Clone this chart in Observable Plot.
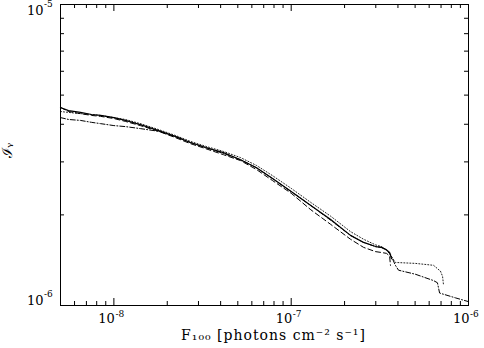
<!DOCTYPE html>
<html><head><meta charset="utf-8">
<script src="https://cdn.jsdelivr.net/npm/d3@7"></script>
<script src="https://cdn.jsdelivr.net/npm/@observablehq/plot@0.6"></script>
<style>body{margin:0;background:#fff}</style>
</head><body><div id="chart"></div>
<script>
// ---- data ----
const solidX = [5.0e-9,5.55e-9,6.48e-9,7.48e-9,8.41e-9,1.0e-8,1.16e-8,1.41e-8,1.79e-8,2.23e-8,2.70e-8,3.29e-8,4.15e-8,5.18e-8,6.37e-8,7.85e-8,1.0e-7,1.29e-7,1.67e-7,2.16e-7,2.56e-7,2.99e-7,3.23e-7,3.45e-7,3.59e-7,3.68e-7];
const solidY = [4.55e-6,4.44e-6,4.38e-6,4.31e-6,4.28e-6,4.21e-6,4.12e-6,3.99e-6,3.81e-6,3.64e-6,3.48e-6,3.35e-6,3.22e-6,3.05e-6,2.87e-6,2.64e-6,2.39e-6,2.15e-6,1.93e-6,1.71e-6,1.62e-6,1.57e-6,1.56e-6,1.53e-6,1.50e-6,1.43e-6];

const dashedX = [5.0e-9,5.55e-9,6.48e-9,7.48e-9,8.41e-9,1.0e-8,1.16e-8,1.41e-8,1.79e-8,2.23e-8,2.70e-8,3.29e-8,4.15e-8,5.18e-8,6.37e-8,7.85e-8,1.0e-7,1.29e-7,1.67e-7,2.16e-7,2.56e-7,2.99e-7,3.23e-7,3.45e-7,3.59e-7,3.63e-7];
const dashedY = [4.55e-6,4.41e-6,4.34e-6,4.28e-6,4.25e-6,4.18e-6,4.09e-6,3.96e-6,3.79e-6,3.61e-6,3.45e-6,3.32e-6,3.17e-6,3.03e-6,2.83e-6,2.60e-6,2.36e-6,2.08e-6,1.86e-6,1.66e-6,1.56e-6,1.51e-6,1.50e-6,1.49e-6,1.46e-6,1.36e-6];

const dottedX = [5.0e-9,5.55e-9,6.48e-9,7.48e-9,8.41e-9,1.0e-8,1.16e-8,1.41e-8,1.79e-8,2.23e-8,2.70e-8,3.29e-8,4.15e-8,5.18e-8,6.37e-8,7.85e-8,1.0e-7,1.29e-7,1.67e-7,2.16e-7,2.56e-7,2.99e-7,3.23e-7,3.45e-7,3.63e-7,3.87e-7,5.02e-7,6.35e-7,6.95e-7,7.14e-7,7.23e-7];
const dottedY = [4.41e-6,4.38e-6,4.34e-6,4.31e-6,4.28e-6,4.21e-6,4.15e-6,4.02e-6,3.84e-6,3.67e-6,3.51e-6,3.38e-6,3.25e-6,3.10e-6,2.92e-6,2.70e-6,2.45e-6,2.20e-6,1.98e-6,1.76e-6,1.66e-6,1.59e-6,1.57e-6,1.53e-6,1.47e-6,1.39e-6,1.38e-6,1.36e-6,1.30e-6,1.25e-6,1.17e-6];

const dashDotX = [5.0e-9,5.55e-9,6.48e-9,7.48e-9,8.41e-9,1.0e-8,1.16e-8,1.41e-8,1.79e-8,2.23e-8,2.70e-8,3.29e-8,4.15e-8,5.18e-8,6.37e-8,7.85e-8,1.0e-7,1.29e-7,1.67e-7,2.16e-7,2.56e-7,2.99e-7,3.23e-7,3.45e-7,3.63e-7,3.87e-7,4.03e-7,5.02e-7,6.35e-7,6.68e-7,6.87e-7,8.45e-7,1.0e-6];
const dashDotY = [4.21e-6,4.15e-6,4.12e-6,4.06e-6,4.02e-6,3.96e-6,3.93e-6,3.87e-6,3.79e-6,3.64e-6,3.48e-6,3.35e-6,3.20e-6,3.05e-6,2.87e-6,2.64e-6,2.39e-6,2.15e-6,1.92e-6,1.71e-6,1.62e-6,1.57e-6,1.56e-6,1.53e-6,1.48e-6,1.36e-6,1.31e-6,1.27e-6,1.21e-6,1.19e-6,1.10e-6,1.06e-6,1.03e-6];

const xMajorTicks = [1e-8, 1e-7];
const xMinorTicks = [6e-9,7e-9,8e-9,9e-9,2e-8,3e-8,4e-8,5e-8,6e-8,7e-8,8e-8,9e-8,2e-7,3e-7,4e-7,5e-7,6e-7,7e-7,8e-7,9e-7];
const yMinorTicks = [2e-6,3e-6,4e-6,5e-6,6e-6,7e-6,8e-6,9e-6];
const xTickValues = [1e-8, 1e-7, 1e-6];
const xTickExponents = ["-8", "-7", "-6"];
const yTickValues = [1e-6, 1e-5];
const yTickExponents = ["-6", "-5"];
const tickBase = "10";
const xTitle = "F₁₀₀ [photons cm⁻² s⁻¹]";
const yTitle = "ℐᵧ";

// ---- layout ----
const W = 484, H = 348, mT = 4, mR = 16, mB = 43, mL = 60;
const pw = W - mL - mR, ph = H - mT - mB;
const rows = (xs, ys) => xs.map((x, i) => ({x, y: ys[i]}));
const font = "DejaVu Serif";
const baseSize = 13, expSize = 9;

const chart = Plot.plot({
  width: W, height: H,
  marginTop: mT, marginRight: mR, marginBottom: mB, marginLeft: mL,
  x: {type: "log", domain: [5e-9, 1e-6], axis: null},
  y: {type: "log", domain: [1e-6, 1e-5], axis: null},
  style: {fontFamily: font, background: "#fff", color: "#000", overflow: "visible"},
  marks: [
    // inward ticks on all four sides
    Plot.tickX(xMinorTicks, {x: d => d, insetTop: ph - 4, stroke: "#000"}),
    Plot.tickX(xMajorTicks, {x: d => d, insetTop: ph - 7, stroke: "#000"}),
    Plot.tickX(xMinorTicks, {x: d => d, insetBottom: ph - 4, stroke: "#000"}),
    Plot.tickX(xMajorTicks, {x: d => d, insetBottom: ph - 7, stroke: "#000"}),
    Plot.tickY(yMinorTicks, {y: d => d, insetRight: pw - 4, stroke: "#000"}),
    Plot.tickY(yMinorTicks, {y: d => d, insetLeft: pw - 4, stroke: "#000"}),
    // curves
    Plot.line(rows(dottedX, dottedY), {x: "x", y: "y", stroke: "#222", strokeWidth: 1, strokeDasharray: "1,2"}),
    Plot.line(rows(dashDotX, dashDotY), {x: "x", y: "y", stroke: "#000", strokeWidth: 1, strokeDasharray: "5,2,1,2"}),
    Plot.line(rows(dashedX, dashedY), {x: "x", y: "y", stroke: "#000", strokeWidth: 1, strokeDasharray: "5,3"}),
    Plot.line(rows(solidX, solidY), {x: "x", y: "y", stroke: "#000", strokeWidth: 1.2}),
    Plot.frame({stroke: "#000", strokeWidth: 1}),
    // x tick labels: base + raised exponent
    Plot.text(xTickValues, {x: d => d, text: () => tickBase, frameAnchor: "bottom", textAnchor: "end", dx: 1, dy: 17, fontSize: baseSize, fill: "#000"}),
    Plot.text(xTickValues, {x: d => d, text: (d, i) => xTickExponents[i], frameAnchor: "bottom", textAnchor: "start", dx: 1.5, dy: 11, fontSize: expSize, fill: "#000"}),
    // y tick labels
    Plot.text([yTickValues[0]], {y: d => d, text: () => tickBase, frameAnchor: "left", textAnchor: "end", dx: -17, dy: -5, fontSize: baseSize, fill: "#000"}),
    Plot.text([yTickValues[0]], {y: d => d, text: () => yTickExponents[0], frameAnchor: "left", textAnchor: "start", dx: -16.5, dy: -11, fontSize: expSize, fill: "#000"}),
    Plot.text([yTickValues[1]], {y: d => d, text: () => tickBase, frameAnchor: "left", textAnchor: "end", dx: -17, dy: 6, fontSize: baseSize, fill: "#000"}),
    Plot.text([yTickValues[1]], {y: d => d, text: () => yTickExponents[1], frameAnchor: "left", textAnchor: "start", dx: -16.5, dy: 0, fontSize: expSize, fill: "#000"}),
    // axis titles
    Plot.text([xTitle], {text: d => d, frameAnchor: "bottom", dx: 9, dy: 34, fontSize: 14, fill: "#000"}),
    Plot.text([yTitle], {text: d => d, frameAnchor: "left", rotate: -90, dx: -53, dy: 3, fontSize: 14, fill: "#000"})
  ]
});
d3.select(chart).selectAll("text").filter(function() { return this.textContent === xTitle; })
  .attr("letter-spacing", "1px");
document.getElementById("chart").appendChild(chart);
</script>
</body></html>
